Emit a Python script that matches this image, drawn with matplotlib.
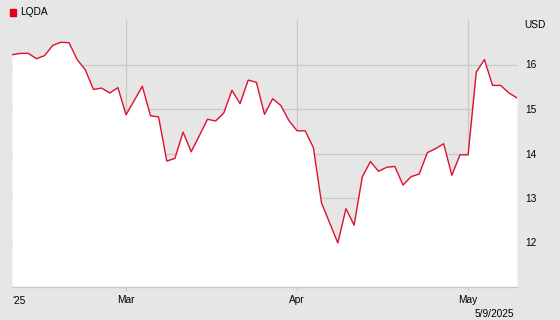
import matplotlib
matplotlib.use("Agg")
import matplotlib.pyplot as plt
import matplotlib.patches as mpatches
import numpy as np
import pandas as pd

plt.rcParams['font.family'] = ['Liberation Sans', 'DejaVu Sans']

# trading days Feb 10 - May 9 2025 (Presidents Day and Good Friday closed)
dates = pd.bdate_range('2025-02-10', '2025-05-09')
dates = dates[~dates.isin(pd.to_datetime(['2025-02-17', '2025-04-18']))]

# closing prices, USD
prices = [16.22, 16.25, 16.25, 16.13, 16.20, 16.43, 16.50, 16.49, 16.11, 15.88,
          15.44, 15.47, 15.36, 15.48,
          14.87, 15.19, 15.51, 14.85, 14.82, 13.83, 13.89, 14.48, 14.04, 14.40,
          14.77, 14.73, 14.91, 15.42, 15.12, 15.65, 15.60, 14.88, 15.23, 15.08,
          14.74,
          14.51, 14.51, 14.13, 12.89, 12.44, 11.99, 12.76, 12.39, 13.47, 13.82,
          13.60, 13.69, 13.71, 13.29, 13.48, 13.54, 14.02, 14.11, 14.22, 13.51,
          13.97,
          13.97, 15.83, 16.11, 15.53, 15.53, 15.36, 15.25]

yticks = [12, 13, 14, 15, 16]
ticker = "LQDA"
last_date = "5/9/2025"

bg = '#e6e6e6'
red = '#e0102f'
gridc = '#c8c8c8'

fig = plt.figure(figsize=(5.6, 3.2), dpi=100, facecolor=bg)
ax = fig.add_axes([12/560, 1 - 287/320, 505/560, 267/320])
ax.set_facecolor(bg)

x = np.arange(len(dates))
ax.fill_between(x, prices, 11, color='white', zorder=1, linewidth=0)
ax.plot(x, prices, color=red, lw=1.0, zorder=3)

ax.set_xlim(0, len(dates) - 1)
ax.set_ylim(11, 17)

# first trading day of each new month
month_idx = [i for i in range(1, len(dates)) if dates[i].month != dates[i - 1].month]
ax.set_xticks(month_idx)
ax.set_xticklabels([dates[i].strftime('%b') for i in month_idx])
ax.set_yticks(yticks)
ax.set_yticklabels([str(v) for v in yticks])

ax.yaxis.tick_right()
ax.set_axisbelow(True)
ax.grid(True, color=gridc, lw=0.9)
for s in ['top', 'left', 'right']:
    ax.spines[s].set_visible(False)
ax.spines['bottom'].set_color(gridc)
ax.spines['bottom'].set_linewidth(1.0)
ax.tick_params(axis='x', length=3, color=gridc, labelsize=7.3, pad=3)
ax.tick_params(axis='y', length=0, labelsize=7.3, pad=6)
for lab in ax.get_yticklabels():
    lab.set_horizontalalignment('left')

ax.text(0, -0.035, "'25", transform=ax.transAxes, ha='left', va='top', fontsize=7.3)
fig.text(546/560, 1 - 25/320, "USD", ha='right', va='center', fontsize=7.3)
fig.text(514/560, 1 - 314/320, last_date, ha='right', va='center', fontsize=7.3)

fig.patches.append(mpatches.Rectangle((10/560, 1 - 16/320), 6/560, 7/320,
                                      transform=fig.transFigure, color='#e0001b'))
fig.text(20/560, 1 - 12/320, ticker, ha='left', va='center', fontsize=7.3)

fig.savefig('out.png', dpi=100, facecolor=bg)
